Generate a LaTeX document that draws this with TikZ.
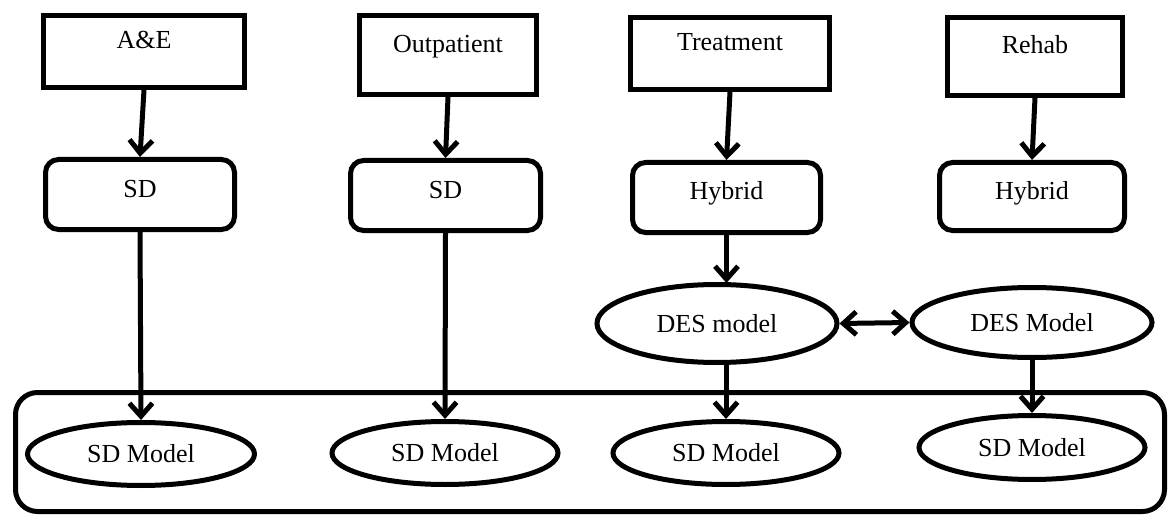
\documentclass[tikz,border=0pt]{standalone}
\usepackage{fontspec}
\setmainfont{Liberation Serif}
\usetikzlibrary{arrows.meta,shapes.geometric}
\begin{document}
\begin{tikzpicture}[x=1pt,y=1pt,
  every node/.style={font=\fontsize{26}{30}\selectfont, line width=5pt, inner sep=0pt},
  topbox/.style={draw, rectangle, text height=18pt, text depth=23pt},
  midbox/.style={draw, rectangle, rounded corners=13pt, text height=18pt, text depth=13pt},
  oval/.style={draw, ellipse},
  container/.style={draw, rectangle, rounded corners=22pt},
  tip/.tip={Straight Barb[length=13pt,width=23pt,line width=5pt]},
  conn/.style={line width=5pt, -tip},
  conn2/.style={line width=5pt, tip-tip}
]
\useasboundingbox (0,0) rectangle (1173,-516);
% container
\node[container, minimum width=1149pt, minimum height=119pt] (cont) at (590,-452) {};
% top boxes
\node[topbox, minimum width=201pt, minimum height=72pt] (ae) at (144,-51.5) {A\&E};
\node[topbox, minimum width=177pt, minimum height=79pt] (out) at (448,-55) {Outpatient};
\node[topbox, minimum width=199pt, minimum height=72pt] (tr) at (730,-53.5) {Treatment};
\node[topbox, minimum width=175pt, minimum height=78pt] (re) at (1035,-56.5) {Rehab};
% middle boxes
\node[midbox, minimum width=189pt, minimum height=70pt] (sd1) at (140,-194.5) {SD};
\node[midbox, minimum width=190pt, minimum height=70pt] (sd2) at (445.5,-195.5) {SD};
\node[midbox, minimum width=188pt, minimum height=70pt] (hy1) at (726.5,-197.5) {Hybrid};
\node[midbox, minimum width=185pt, minimum height=68pt] (hy2) at (1032,-196.5) {Hybrid};
% DES ellipses
\node[oval, minimum width=240pt, minimum height=78pt] (des1) at (717,-323.5) {DES model};
\node[oval, minimum width=240pt, minimum height=70pt] (des2) at (1032,-322.5) {DES Model};
% SD models
\node[oval, minimum width=227pt, minimum height=63pt] (m1) at (141,-454) {SD Model};
\node[oval, minimum width=226pt, minimum height=63pt] (m2) at (445,-453) {SD Model};
\node[oval, minimum width=226pt, minimum height=63pt] (m3) at (726,-453) {SD Model};
\node[oval, minimum width=226pt, minimum height=64pt] (m4) at (1032,-447.5) {SD Model};
% connectors
\draw[conn] (ae.south) -- (sd1.north);
\draw[conn] (out.south) -- (sd2.north);
\draw[conn] (tr.south) -- (hy1.north);
\draw[conn] (re.south) -- (hy2.north);
\draw[conn] (sd1.south) -- (m1.north);
\draw[conn] (sd2.south) -- (m2.north);
\draw[conn] (hy1.south) -- ([yshift=-1pt]hy1.south |- des1.north);
\draw[conn] (m3.north |- des1.south) -- (m3.north);
\draw[conn] (des2.south) -- (m4.north);
\draw[conn2] (des1.east) -- (des2.west);
\end{tikzpicture}
\end{document}
